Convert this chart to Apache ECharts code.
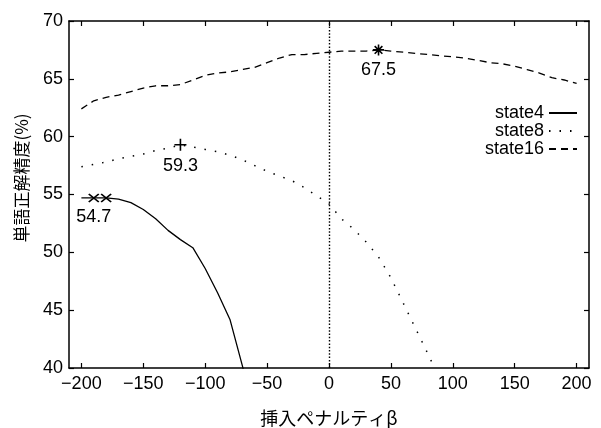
<!DOCTYPE html>
<html>
<head>
<meta charset="utf-8">
<script src="https://cdn.jsdelivr.net/npm/echarts@6/dist/echarts.min.js"></script>
<style>
html,body{margin:0;padding:0;background:#fff;}
#chart{width:601px;height:428px;}
</style>
</head>
<body>
<div id="chart"></div>
<script>
// ---- data ----
const xTicks = [-200, -150, -100, -50, 0, 50, 100, 150, 200];
const yTicks = [40, 45, 50, 55, 60, 65, 70];

const state4X = [-200, -190, -180, -170, -160, -150, -140, -130, -120, -110, -100, -90, -80, -70, -60];
const state4Y = [54.7, 54.7, 54.7, 54.6, 54.3, 53.7, 52.9, 51.9, 51.1, 50.4, 48.6, 46.5, 44.2, 40.2, 36.0];

const state8X = [-200, -190, -180, -170, -160, -150, -140, -130, -120, -110, -100, -90, -80, -70, -60, -50, -40, -30, -20, -10, 0, 10, 20, 30, 40, 50, 60, 70, 80, 90];
const state8Y = [57.4, 57.6, 57.8, 58.1, 58.3, 58.5, 58.8, 59.0, 59.3, 59.1, 58.9, 58.7, 58.4, 58.0, 57.5, 57.0, 56.6, 56.2, 55.6, 54.9, 54.2, 52.9, 52.0, 50.9, 49.6, 47.8, 45.6, 43.4, 41.2, 38.9];

const state16X = [-200, -190, -180, -170, -160, -150, -140, -130, -120, -110, -100, -90, -80, -70, -60, -50, -40, -30, -20, -10, 0, 10, 20, 30, 40, 50, 60, 70, 80, 90, 100, 110, 120, 130, 140, 150, 160, 170, 180, 190, 200];
const state16Y = [62.4, 63.1, 63.4, 63.6, 63.9, 64.2, 64.4, 64.4, 64.5, 64.9, 65.3, 65.5, 65.6, 65.8, 66.0, 66.4, 66.8, 67.1, 67.1, 67.2, 67.3, 67.4, 67.4, 67.4, 67.5, 67.4, 67.3, 67.2, 67.1, 67.0, 66.9, 66.8, 66.6, 66.4, 66.3, 66.1, 65.8, 65.5, 65.1, 64.9, 64.6];

const peakX = [-190, -180, -120, 40];
const peakY = [54.7, 54.7, 59.3, 67.5];
const peakLabels = ['54.7', '', '59.3', '67.5'];
const peakKinds = ['x', 'x', 'plus', 'star'];

const seriesNames = ['state4', 'state8', 'state16'];
const xTitle = '挿入ペナルティβ';
const yTitle = '単語正解精度(%)';

// ---- chart ----
const pair = (xs, ys) => xs.map((x, i) => [x, ys[i]]);
const symbolPaths = {
  x: 'path://M0,0L10,10M10,0L0,10',
  plus: 'path://M5,0L5,10M0,5L10,5',
  star: 'path://M5,0L5,10M0,5L10,5M1.5,1.5L8.5,8.5M8.5,1.5L1.5,8.5'
};
const symbolSizes = { x: [10, 8], plus: [12, 12], star: [11, 11] };

const font = 'Liberation Sans, Arial, sans-serif';
const cjk = 'Noto Sans CJK JP, sans-serif';
const minusFmt = v => String(v).replace('-', '\u2212');

const baseX = {
  type: 'value', min: -210, max: 210,
  axisLine: { show: true, onZero: false, lineStyle: { color: '#000', width: 1.5 } },
  axisTick: { show: true, inside: true, length: 5, customValues: xTicks, lineStyle: { color: '#000', width: 1.2 } },
  splitLine: { show: false }
};
const baseY = {
  type: 'value', min: 40, max: 70, interval: 5,
  axisLine: { show: true, onZero: false, lineStyle: { color: '#000', width: 1.5 } },
  axisTick: { show: true, inside: true, length: 5, lineStyle: { color: '#000', width: 1.2 } },
  splitLine: { show: false }
};

const chart = echarts.init(document.getElementById('chart'), null, { renderer: 'canvas' });
chart.setOption({
  backgroundColor: '#fff',
  animation: false,
  grid: { left: 69, right: 12, top: 21, bottom: 60, containLabel: false, outerBoundsMode: 'none' },
  legend: {
    data: seriesNames,
    orient: 'vertical',
    right: 23, top: 104, padding: 0,
    align: 'right',
    itemWidth: 28, itemHeight: 10, itemGap: 0,
    itemStyle: { opacity: 0 },
    textStyle: { fontFamily: font, fontSize: 18, color: '#000', lineHeight: 17.5 },
    inactiveColor: '#000'
  },
  graphic: [{
    type: 'text', x: 22, y: 178, rotation: Math.PI / 2,
    style: { text: yTitle, fontFamily: cjk, fontSize: 17, fill: '#000', align: 'center', verticalAlign: 'middle' }
  }],
  xAxis: [
    Object.assign({}, baseX, {
      position: 'bottom',
      name: xTitle, nameLocation: 'middle', nameGap: 41,
      nameTextStyle: { fontFamily: cjk, fontSize: 18, color: '#000' },
      axisLabel: { show: true, customValues: xTicks, margin: 7, formatter: minusFmt,
        fontFamily: font, fontSize: 18, color: '#000' }
    }),
    Object.assign({}, baseX, { position: 'top', axisLabel: { show: false } })
  ],
  yAxis: [
    Object.assign({}, baseY, {
      position: 'left',
      axisLabel: { show: true, margin: 6, fontFamily: font, fontSize: 18, color: '#000' }
    }),
    Object.assign({}, baseY, { position: 'right', axisLabel: { show: false } })
  ],
  series: [
    {
      name: seriesNames[0], type: 'line', symbol: 'none', clip: true,
      data: pair(state4X, state4Y),
      lineStyle: { color: '#000', width: 1.3, type: 'solid' },
      itemStyle: { color: '#000' },
      markLine: {
        silent: true, symbol: 'none', animation: false,
        label: { show: false },
        lineStyle: { color: '#000', width: 1.4, type: [1.5, 1.8] },
        data: [{ xAxis: 0 }]
      }
    },
    {
      name: seriesNames[1], type: 'line', symbol: 'none', clip: true,
      data: pair(state8X, state8Y),
      lineStyle: { color: '#000', width: 1.5, type: [1.5, 9] },
      itemStyle: { color: '#000' }
    },
    {
      name: seriesNames[2], type: 'line', symbol: 'none', clip: true,
      data: pair(state16X, state16Y),
      lineStyle: { color: '#000', width: 1.3, type: [7, 5] },
      itemStyle: { color: '#000' }
    },
    {
      name: 'peaks', type: 'scatter', z: 5,
      data: peakX.map((x, i) => ({
        value: [x, peakY[i]],
        symbol: symbolPaths[peakKinds[i]],
        symbolSize: symbolSizes[peakKinds[i]],
        label: {
          show: peakLabels[i] !== '',
          formatter: peakLabels[i],
          position: 'bottom', distance: 5,
          fontFamily: font, fontSize: 18, color: '#000'
        }
      })),
      itemStyle: { color: 'rgba(0,0,0,0)', borderColor: '#000', borderWidth: 1.6, opacity: 1 }
    }
  ]
});
</script>
</body>
</html>
